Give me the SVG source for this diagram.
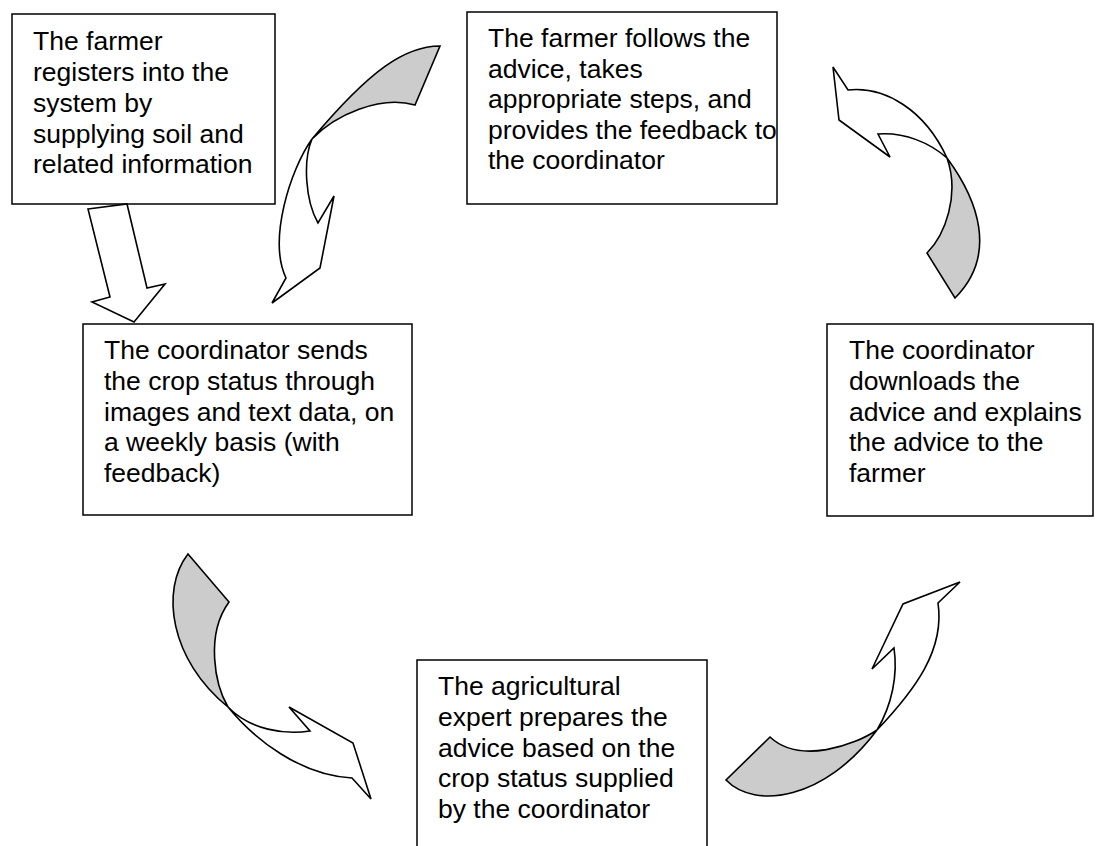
<svg xmlns="http://www.w3.org/2000/svg" width="1104" height="846" viewBox="0 0 1104 846">
  <style>
    .box { fill: #ffffff; stroke: #000000; stroke-width: 1.5; }
    .lbl { font-family: "Liberation Sans", Arial, sans-serif; font-size: 26.5px; fill: #000000; }
    .front { fill: #ffffff; stroke: #000000; stroke-width: 1.6; stroke-linejoin: miter; }
    .back { fill: #cccccc; stroke: #000000; stroke-width: 1.6; stroke-linejoin: miter; }
  </style>
  <rect width="1104" height="846" fill="#ffffff"/>

  <!-- step boxes -->
  <g id="register">
    <rect class="box" x="12" y="14" width="263" height="190"/>
    <text class="lbl" x="33" y="50">The farmer</text>
    <text class="lbl" x="33" y="81">registers into the</text>
    <text class="lbl" x="33" y="112">system by</text>
    <text class="lbl" x="33" y="143">supplying soil and</text>
    <text class="lbl" x="33" y="173">related information</text>
  </g>

  <g id="follow">
    <rect class="box" x="467" y="12" width="310" height="192"/>
    <text class="lbl" x="488" y="47">The farmer follows the</text>
    <text class="lbl" x="488" y="78">advice, takes</text>
    <text class="lbl" x="488" y="108">appropriate steps, and</text>
    <text class="lbl" x="488" y="139">provides the feedback to</text>
    <text class="lbl" x="488" y="169">the coordinator</text>
  </g>

  <g id="download">
    <rect class="box" x="827" y="324" width="266" height="192"/>
    <text class="lbl" x="849" y="359">The coordinator</text>
    <text class="lbl" x="849" y="390">downloads the</text>
    <text class="lbl" x="849" y="421">advice and explains</text>
    <text class="lbl" x="849" y="451">the advice to the</text>
    <text class="lbl" x="849" y="482">farmer</text>
  </g>

  <g id="send">
    <rect class="box" x="83" y="324" width="329" height="191"/>
    <text class="lbl" x="104" y="359">The coordinator sends</text>
    <text class="lbl" x="104" y="390">the crop status through</text>
    <text class="lbl" x="104" y="421">images and text data, on</text>
    <text class="lbl" x="104" y="451">a weekly basis (with</text>
    <text class="lbl" x="104" y="482">feedback)</text>
  </g>

  <g id="prepare">
    <rect class="box" x="417" y="660" width="290" height="192"/>
    <text class="lbl" x="438" y="695">The agricultural</text>
    <text class="lbl" x="438" y="726">expert prepares the</text>
    <text class="lbl" x="438" y="757">advice based on the</text>
    <text class="lbl" x="438" y="787">crop status supplied</text>
    <text class="lbl" x="438" y="818">by the coordinator</text>
  </g>

  <!-- block arrows between the steps -->
  <g id="connectors">
    <!-- straight arrow: register -> send -->
    <polygon class="front" points="88,209 127,204 147,288 165,284 134,322 92,302 110,297"/>

    <!-- curved arrow: follow -> send -->
    <path class="back" d="M440,46 C405,46 370,70 312,139 C335,115 380,95 415,105 Z"/>
    <path class="front" d="M312,139 C290,170 268,240 286,278 L272,303 L320,268 L334,196 L318,223 C305,200 303,160 312,139 Z"/>

    <!-- curved arrow: download -> follow -->
    <path class="back" d="M947,158 C978,200 998,255 955,298 L927,253 C945,235 960,195 947,158 Z"/>
    <path class="front" d="M833,67 L848,90 C885,86 925,110 947,158 C930,143 905,132 878,134 L890,157 L839,120 Z"/>

    <!-- curved arrow: send -> prepare -->
    <path class="back" d="M188,554 C160,590 170,660 228,707 C215,685 205,635 229,602 Z"/>
    <path class="front" d="M228,707 C255,740 300,775 352,778 L371,799 L353,743 L289,707 L310,731 C285,735 250,730 228,707 Z"/>

    <!-- curved arrow: prepare -> download -->
    <path class="back" d="M726,780 C755,810 825,800 877,730 C855,745 800,765 770,737 Z"/>
    <path class="front" d="M877,730 C915,690 945,650 938,603 L960,582 L903,604 L872,669 L894,648 C898,675 892,705 877,730 Z"/>
  </g>
</svg>
